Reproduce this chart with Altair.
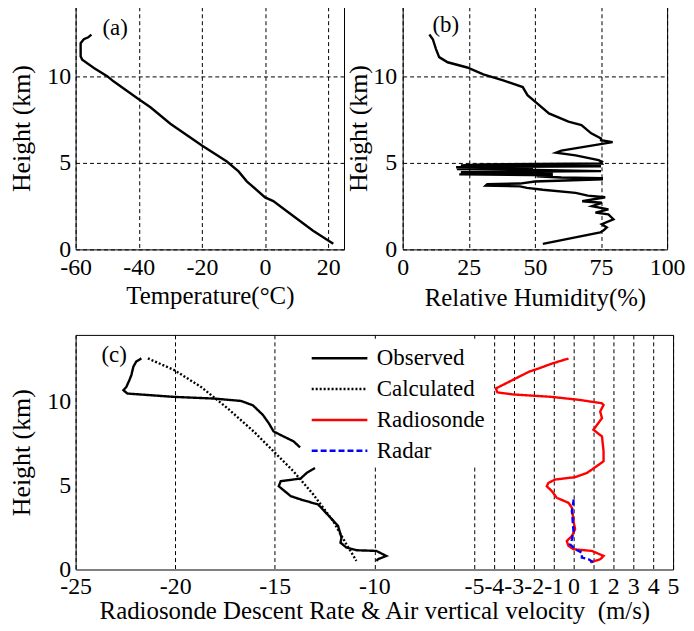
import altair as alt
import pandas as pd

FONT = "Liberation Serif"

# ---------------- (a) Temperature profile ----------------
temp_c = [21.6, 15.2, 6.8, 2.6, 0.0, -5.8, -8.4, -12.1, -20.0, -30.0, -36.3, -40.0,
          -48.0, -50.0, -54.2, -57.9, -58.4, -58.4, -57.4, -56.0, -55.0]
temp_h = [0.32, 1.08, 2.22, 2.79, 3.0, 3.93, 4.5, 5.07, 6.0, 7.25, 8.2, 8.67,
          9.7, 10.0, 10.47, 10.95, 11.14, 11.9, 12.13, 12.24, 12.4]

# ---------------- (b) Relative humidity profile ----------------
rh_h = [0.32, 0.98, 1.10, 1.27, 1.45, 1.74, 2.02, 2.12, 2.31, 2.50, 2.69, 2.78, 3.01,
        3.10, 3.26, 3.44, 3.55, 3.64, 3.68, 3.76, 3.80, 3.92, 4.05, 4.11, 4.15, 4.22,
        4.28, 4.33, 4.40, 4.45, 4.52, 4.58, 4.64, 4.70, 4.74, 4.80, 4.85, 4.90, 4.96,
        5.02, 5.06, 5.15, 5.43, 5.58, 5.70, 5.90, 6.19, 6.30, 6.40, 6.70, 7.18, 7.37,
        7.85, 8.50, 8.90, 9.37, 9.75, 10.10, 10.50, 10.80, 11.10, 11.56, 12.13, 12.40]
rh_v = [53.0, 74.7, 76.0, 77.2, 75.3, 79.7, 77.8, 72.9, 77.8, 71.6, 75.3, 67.9, 76.6,
        70.0, 65.4, 53.0, 47.0, 44.4, 31.4, 32.0, 44.3, 50.0, 75.3, 75.3, 60.0, 50.6,
        56.8, 21.4, 56.8, 22.0, 75.0, 50.0, 20.5, 49.3, 20.2, 75.0, 22.0, 30.0, 75.3,
        75.0, 75.3, 74.1, 65.4, 58.0, 60.0, 68.0, 79.4, 75.0, 75.0, 71.3, 67.6, 62.7,
        55.3, 50.3, 47.2, 45.4, 38.0, 30.5, 24.4, 17.0, 13.8, 12.6, 11.4, 10.1]

# ---------------- (c) Descent rate & vertical velocity ----------------
obs_h = [12.6, 12.4, 12.1, 11.6, 11.3, 10.9, 10.7, 10.5, 10.3, 10.2, 10.06, 9.8, 9.23,
         8.73, 8.24, 7.94, 7.65, 7.29,
         6.06, 5.76, 5.43, 5.27, 4.97, 4.38, 4.18, 3.88, 3.09, 2.6, 1.9, 1.6, 1.31,
         1.15, 1.11, 0.81, 0.61, 0.52]
obs_r = [-21.7, -21.96, -22.1, -22.2, -22.3, -22.45, -22.6, -22.4, -20.05, -18.05, -16.7,
         -16.1, -15.6, -15.3, -15.06, -14.56, -14.06, -13.73,
         -12.98, -13.4, -13.7, -14.7, -14.8, -14.2, -13.7, -12.82, -12.2, -11.82, -11.65,
         -11.7, -11.4, -10.9, -9.9, -9.4, -9.82, -9.9]
obs_seg = [1] * 18 + [2] * 18

calc_h = [12.6, 11.9, 10.91, 9.63, 8.24, 7.05, 5.86, 4.47, 2.89, 1.5, 0.52]
calc_r = [-21.37, -20.05, -18.72, -17.38, -16.06, -15.06, -14.06, -13.06, -12.07, -11.4, -10.9]

sonde_h = [12.59, 12.29, 12.0, 11.8, 11.3, 10.85, 10.8, 10.57, 10.45, 10.3, 10.12, 9.92,
           9.82, 9.43, 9.03, 8.34, 7.94, 7.05, 6.46, 5.96, 5.76, 5.51, 5.37, 5.17, 4.97,
           4.68, 4.28, 3.98, 3.68, 2.89, 2.4, 2.0, 1.7, 1.41, 1.21, 1.11, 0.81, 0.61, 0.42]
sonde_v = [-0.25, -1.08, -1.74, -2.24, -3.07, -3.82, -3.9, -3.82, -3.07, -1.08, 0.3, 1.43,
           1.51, 1.34, 1.43, 1.0, 1.43, 1.51, 1.51, 0.92, 0.67, 0.08, -0.92, -1.26, -1.34,
           -1.09, -0.84, -0.25, -0.08, 0.0, 0.08, -0.08, -0.34, -0.25, 0.0, 0.92, 1.51,
           1.34, 0.84]

radar_h = [4.18, 4.08, 3.49, 2.3, 1.8, 1.5, 1.21, 1.01, 0.71, 0.61, 0.42]
radar_v = [0.0, 0.0, -0.08, 0.0, -0.08, -0.17, 0.08, 0.42, 0.42, 0.76, 1.0]

series_names = ["Observed", "Calculated", "Radiosonde", "Radar"]
series_colors = ["black", "black", "red", "blue"]
series_dash = [[1, 0], [2, 2], [1, 0], [6, 3]]

a_ticks = [-60, -40, -20, 0, 20]
b_ticks = [0, 25, 50, 75, 100]
c_ticks = [-25, -20, -15, -10, -5, -4, -3, -2, -1, 0, 1, 2, 3, 4, 5]
h_ticks = [0, 5, 10]

# ---------------- build ----------------
df_a = pd.DataFrame({"x": temp_c, "h": temp_h, "i": range(len(temp_c))})
df_b = pd.DataFrame({"x": rh_v, "h": rh_h, "i": range(len(rh_v))})

rows = []
for x, h, s in zip(obs_r, obs_h, obs_seg):
    rows.append({"x": x, "h": h, "series": "Observed", "seg": f"o{s}"})
for x, h in zip(calc_r, calc_h):
    rows.append({"x": x, "h": h, "series": "Calculated", "seg": "c"})
for x, h in zip(sonde_v, sonde_h):
    rows.append({"x": x, "h": h, "series": "Radiosonde", "seg": "s"})
for x, h in zip(radar_v, radar_h):
    rows.append({"x": x, "h": h, "series": "Radar", "seg": "r"})
df_c = pd.DataFrame(rows)
df_c["i"] = range(len(df_c))

hscale = alt.Scale(domain=[0, 14], nice=False, zero=False)
HYPHEN = "replace(datum.label, '\u2212', '-')"


def panel_label(txt, px, py):
    return alt.Chart(pd.DataFrame({"t": [txt]})).mark_text(
        font=FONT, fontSize=23, align="left", baseline="top", color="black"
    ).encode(text="t:N", x=alt.value(px), y=alt.value(py))


a_line = alt.Chart(df_a).mark_line(color="black", strokeWidth=2.4).encode(
    x=alt.X("x:Q", scale=alt.Scale(domain=[-60, 25], nice=False, zero=False),
            axis=alt.Axis(values=a_ticks, title="Temperature(°C)", labelExpr=HYPHEN)),
    y=alt.Y("h:Q", scale=hscale,
            axis=alt.Axis(values=h_ticks, title="Height (km)", titlePadding=12, labelPadding=5)),
    order="i:Q",
)
chart_a = alt.layer(a_line, panel_label("(a)", 27, 10)).properties(width=270, height=244)

b_line = alt.Chart(df_b).mark_line(color="black", strokeWidth=2.4).encode(
    x=alt.X("x:Q", scale=alt.Scale(domain=[0, 100], nice=False, zero=False),
            axis=alt.Axis(values=b_ticks, title="Relative Humidity(%)", titlePadding=6)),
    y=alt.Y("h:Q", scale=hscale,
            axis=alt.Axis(values=h_ticks, title="Height (km)", titlePadding=1, labelPadding=6)),
    order="i:Q",
)
chart_b = alt.layer(b_line, panel_label("(b)", 30, 7)).properties(width=266, height=244)

c_line = alt.Chart(df_c).mark_line(strokeWidth=2.4).encode(
    x=alt.X("x:Q", scale=alt.Scale(domain=[-25, 5], nice=False, zero=False),
            axis=alt.Axis(values=c_ticks, labelExpr=HYPHEN, titlePadding=0, labelPadding=5,
                          title="Radiosonde Descent Rate & Air vertical velocity\u00a0 (m/s)")),
    y=alt.Y("h:Q", scale=hscale,
            axis=alt.Axis(values=h_ticks, title="Height (km)", titlePadding=12,
                          labelPadding=5, grid=False)),
    color=alt.Color("series:N", scale=alt.Scale(domain=series_names, range=series_colors),
                    legend=alt.Legend(title=None)),
    strokeDash=alt.StrokeDash("series:N", scale=alt.Scale(domain=series_names, range=series_dash),
                              legend=alt.Legend(title=None)),
    detail="seg:N",
    order="i:Q",
)
chart_c = alt.layer(c_line, panel_label("(c)", 26, 9)).properties(width=601, height=236)

chart = alt.vconcat(
    alt.hconcat(chart_a, chart_b, spacing=0),
    chart_c,
    spacing=23,
).properties(
    padding={"left": 0, "top": -4, "right": 0, "bottom": 0}
).configure_view(
    stroke="black", strokeWidth=1
).configure_axis(
    labelFont=FONT, titleFont=FONT, labelFontSize=24,
    titleFontWeight="normal", labelColor="black", titleColor="black",
    domain=False, ticks=False, grid=True, gridColor="black", gridDash=[4, 3],
    gridOpacity=1, gridWidth=1, labelFlush=False, labelOverlap=False,
).configure_axisX(
    labelPadding=6, titleFontSize=25
).configure_axisY(
    titleFontSize=26
).configure_legend(
    orient="none", legendX=246, legendY=334, padding=4, fillColor="white",
    symbolType="M-2,0L2,0", symbolSize=784, symbolStrokeWidth=2.5,
    labelFont=FONT, labelFontSize=23, labelColor="black", labelOffset=22,
    rowPadding=3, labelLimit=300,
)

chart.save("out.html", embed_options={"renderer": "svg", "actions": False})
